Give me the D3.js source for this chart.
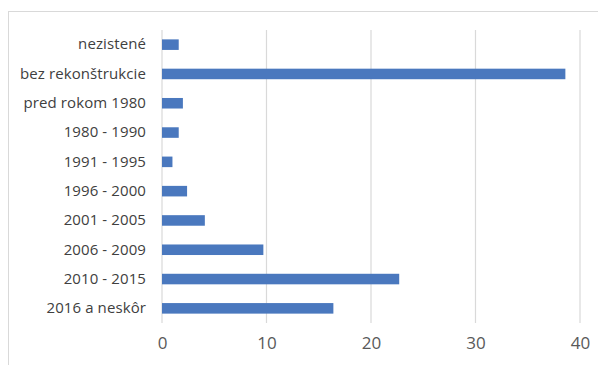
<!DOCTYPE html>
<html><head><meta charset="utf-8">
<script src="https://cdn.jsdelivr.net/npm/d3@7"></script>
<style>body{margin:0;background:#fff}svg{display:block}</style>
</head><body>
<script>
const categories = ["nezistené","bez rekonštrukcie","pred rokom 1980","1980 - 1990","1991 - 1995","1996 - 2000","2001 - 2005","2006 - 2009","2010 - 2015","2016 a neskôr"];
const values = [1.6, 38.6, 2.0, 1.6, 1.0, 2.4, 4.1, 9.7, 22.7, 16.4];
const xTicks = [0, 10, 20, 30, 40];

const W = 598, H = 365;
const svg = d3.select("body").append("svg").attr("width", W).attr("height", H);
svg.append("rect").attr("x", 8.5).attr("y", 11.5).attr("width", W).attr("height", H).attr("fill", "#fff").attr("stroke", "#d9d9d9");

const x = d3.scaleLinear().domain([0, 40]).range([162, 580]);
const y = d3.scaleBand().domain(categories).range([30, 323]).paddingInner(0.64).paddingOuter(0.32);

svg.append("g").selectAll("line").data(xTicks).join("line")
  .attr("x1", d => x(d)).attr("x2", d => x(d)).attr("y1", 30).attr("y2", 323)
  .attr("stroke", "#d9d9d9").attr("stroke-width", 1.2);

svg.append("g").selectAll("rect").data(values).join("rect")
  .attr("x", x(0)).attr("y", (d, i) => y(categories[i]))
  .attr("width", d => x(d) - x(0)).attr("height", y.bandwidth())
  .attr("fill", "#4a78be");

const font = "'Open Sans', sans-serif";
const yAxis = d3.axisLeft(y).tickSize(0).tickPadding(16);
const gy = svg.append("g").attr("transform", `translate(${x(0)},0)`).call(yAxis);
gy.select(".domain").remove();
gy.selectAll("text").attr("font-family", font).attr("font-size", 15).attr("letter-spacing", "0.1px").attr("fill", "#404040");

const xAxis = d3.axisBottom(x).tickValues(xTicks).tickSize(0).tickPadding(14);
const gx = svg.append("g").attr("transform", `translate(0,323)`).call(xAxis);
gx.select(".domain").remove();
gx.selectAll("text").attr("font-family", font).attr("font-size", 17).attr("fill", "#595959");
</script>
</body></html>
